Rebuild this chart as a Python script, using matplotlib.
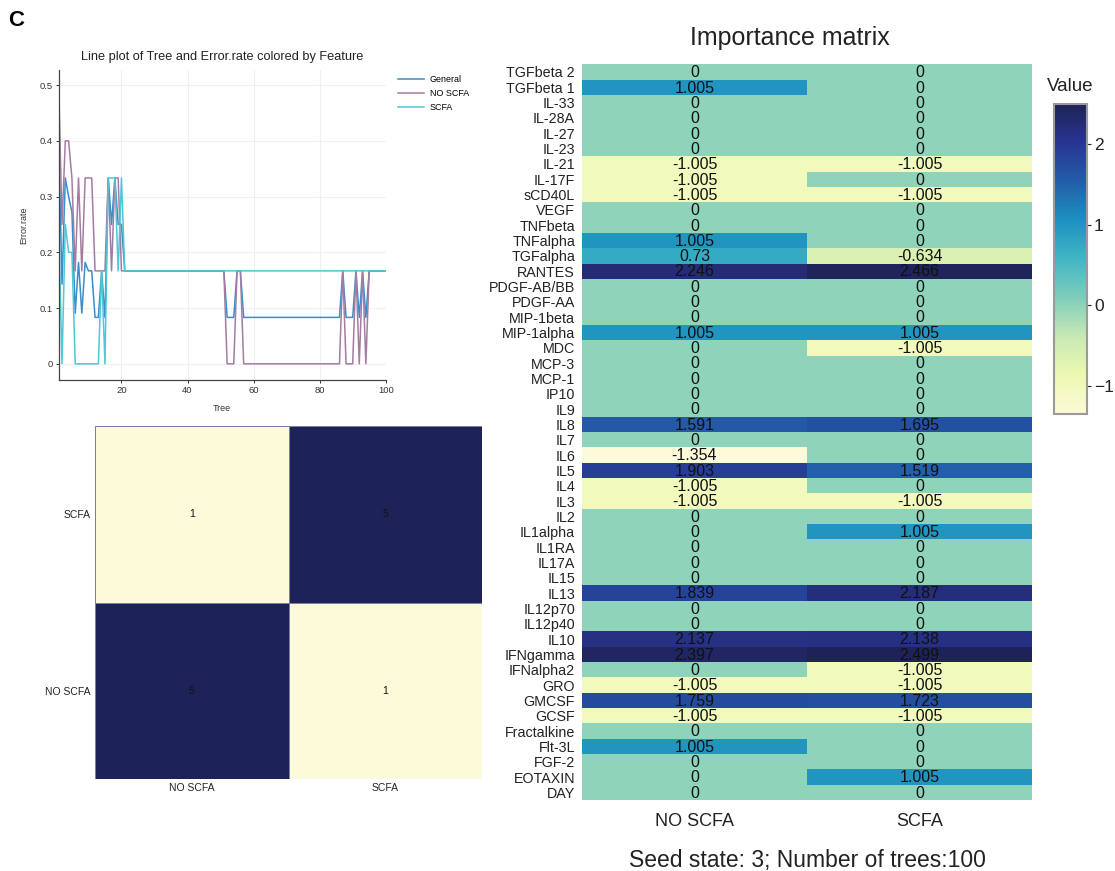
import numpy as np
import matplotlib
matplotlib.use("Agg")
import matplotlib.pyplot as plt
from matplotlib.colors import LinearSegmentedColormap, Normalize

plt.rcParams['font.family'] = ['Liberation Sans', 'DejaVu Sans']

# ---------------- data ----------------
trees = list(range(1, 101))

err_general = [
    0.4, 0.1429, 0.3333, 0.3, 0.2727, 0.0909, 0.1818, 0.0909, 0.1818, 0.1667,
    0.1667, 0.0833, 0.0833, 0.1667, 0.0833, 0.3333, 0.25, 0.3333, 0.25, 0.25,
    0.1667, 0.1667, 0.1667, 0.1667, 0.1667, 0.1667, 0.1667, 0.1667, 0.1667, 0.1667,
    0.1667, 0.1667, 0.1667, 0.1667, 0.1667, 0.1667, 0.1667, 0.1667, 0.1667, 0.1667,
    0.1667, 0.1667, 0.1667, 0.1667, 0.1667, 0.1667, 0.1667, 0.1667, 0.1667, 0.1667,
    0.1667, 0.0833, 0.0833, 0.0833, 0.1667, 0.1667, 0.0833, 0.0833, 0.0833, 0.0833,
    0.0833, 0.0833, 0.0833, 0.0833, 0.0833, 0.0833, 0.0833, 0.0833, 0.0833, 0.0833,
    0.0833, 0.0833, 0.0833, 0.0833, 0.0833, 0.0833, 0.0833, 0.0833, 0.0833, 0.0833,
    0.0833, 0.0833, 0.0833, 0.0833, 0.0833, 0.0833, 0.1667, 0.0833, 0.0833, 0.0833,
    0.1667, 0.0833, 0.1667, 0.0833, 0.1667, 0.1667, 0.1667, 0.1667, 0.1667, 0.1667,
]

err_no_scfa = [
    0.5, 0.25, 0.4, 0.4, 0.3333, 0.1667, 0.3333, 0.1667, 0.3333, 0.3333,
    0.3333, 0.1667, 0.1667, 0.1667, 0.1667, 0.3333, 0.1667, 0.3333, 0.3333, 0.1667,
    0.1667, 0.1667, 0.1667, 0.1667, 0.1667, 0.1667, 0.1667, 0.1667, 0.1667, 0.1667,
    0.1667, 0.1667, 0.1667, 0.1667, 0.1667, 0.1667, 0.1667, 0.1667, 0.1667, 0.1667,
    0.1667, 0.1667, 0.1667, 0.1667, 0.1667, 0.1667, 0.1667, 0.1667, 0.1667, 0.1667,
    0.1667, 0.0, 0.0, 0.0, 0.1667, 0.1667, 0.0, 0.0, 0.0, 0.0,
    0.0, 0.0, 0.0, 0.0, 0.0, 0.0, 0.0, 0.0, 0.0, 0.0,
    0.0, 0.0, 0.0, 0.0, 0.0, 0.0, 0.0, 0.0, 0.0, 0.0,
    0.0, 0.0, 0.0, 0.0, 0.0, 0.0, 0.1667, 0.0, 0.0, 0.0,
    0.1667, 0.0, 0.1667, 0.0, 0.1667, 0.1667, 0.1667, 0.1667, 0.1667, 0.1667,
]

err_scfa = [
    0.25, 0.0, 0.25, 0.2, 0.2, 0.0, 0.0, 0.0, 0.0, 0.0,
    0.0, 0.0, 0.0, 0.1667, 0.0, 0.3333, 0.3333, 0.3333, 0.1667, 0.3333,
    0.1667, 0.1667, 0.1667, 0.1667, 0.1667, 0.1667, 0.1667, 0.1667, 0.1667, 0.1667,
    0.1667, 0.1667, 0.1667, 0.1667, 0.1667, 0.1667, 0.1667, 0.1667, 0.1667, 0.1667,
    0.1667, 0.1667, 0.1667, 0.1667, 0.1667, 0.1667, 0.1667, 0.1667, 0.1667, 0.1667,
    0.1667, 0.1667, 0.1667, 0.1667, 0.1667, 0.1667, 0.1667, 0.1667, 0.1667, 0.1667,
    0.1667, 0.1667, 0.1667, 0.1667, 0.1667, 0.1667, 0.1667, 0.1667, 0.1667, 0.1667,
    0.1667, 0.1667, 0.1667, 0.1667, 0.1667, 0.1667, 0.1667, 0.1667, 0.1667, 0.1667,
    0.1667, 0.1667, 0.1667, 0.1667, 0.1667, 0.1667, 0.1667, 0.1667, 0.1667, 0.1667,
    0.1667, 0.1667, 0.1667, 0.1667, 0.1667, 0.1667, 0.1667, 0.1667, 0.1667, 0.1667,
]

series_names = ["General", "NO SCFA", "SCFA"]
series_colors = ["#3a8ec9", "#a57ca1", "#4ec7d7"]

# confusion matrix (rows: true class top->bottom, columns: predicted)
cm_rows = ["SCFA", "NO SCFA"]
cm_cols = ["NO SCFA", "SCFA"]
cm_values = [[1, 5],
             [5, 1]]

# importance matrix
features = [
    "TGFbeta 2", "TGFbeta 1", "IL-33", "IL-28A", "IL-27", "IL-23", "IL-21",
    "IL-17F", "sCD40L", "VEGF", "TNFbeta", "TNFalpha", "TGFalpha", "RANTES",
    "PDGF-AB/BB", "PDGF-AA", "MIP-1beta", "MIP-1alpha", "MDC", "MCP-3", "MCP-1",
    "IP10", "IL9", "IL8", "IL7", "IL6", "IL5", "IL4", "IL3", "IL2", "IL1alpha",
    "IL1RA", "IL17A", "IL15", "IL13", "IL12p70", "IL12p40", "IL10", "IFNgamma",
    "IFNalpha2", "GRO", "GMCSF", "GCSF", "Fractalkine", "Flt-3L", "FGF-2",
    "EOTAXIN", "DAY",
]
groups = ["NO SCFA", "SCFA"]
imp_no_scfa = [
    0, 1.005, 0, 0, 0, 0, -1.005,
    -1.005, -1.005, 0, 0, 1.005, 0.73, 2.246,
    0, 0, 0, 1.005, 0, 0, 0,
    0, 0, 1.591, 0, -1.354, 1.903, -1.005, -1.005, 0, 0,
    0, 0, 0, 1.839, 0, 0, 2.137, 2.397,
    0, -1.005, 1.759, -1.005, 0, 1.005, 0,
    0, 0,
]
imp_scfa = [
    0, 0, 0, 0, 0, 0, -1.005,
    0, -1.005, 0, 0, 0, -0.634, 2.466,
    0, 0, 0, 1.005, -1.005, 0, 0,
    0, 0, 1.695, 0, 0, 1.519, 0, -1.005, 0, 1.005,
    0, 0, 0, 2.187, 0, 0, 2.138, 2.499,
    -1.005, -1.005, 1.723, -1.005, 0, 0, 0,
    1.005, 0,
]

# ---------------- colours ----------------
ylgnbu = LinearSegmentedColormap.from_list(
    "ylgnbu_soft",
    ["#fcfad9", "#edf8b1", "#c7e9b4", "#7fcdbb", "#41b6c4",
     "#1d91c0", "#225ea8", "#283592", "#1e2357"])

W, H = 1115, 871
fig = plt.figure(figsize=(W / 100, H / 100), dpi=100)


def box(left, top, right, bottom):
    return [left / W, 1 - bottom / H, (right - left) / W, (bottom - top) / H]


fig.text(8 / W, 1 - 20 / H, "C", fontsize=16, fontweight="bold",
         ha="left", va="center")

# ---------------- line plot ----------------
ax1 = fig.add_axes(box(58.7, 70, 385.7, 380))
for vals, name, col in zip([err_general, err_no_scfa, err_scfa],
                           series_names, series_colors):
    ax1.plot(trees, vals, color=col, lw=1.1, label=name)
ax1.set_xlim(1, 100)
ax1.set_ylim(-0.029, 0.527)
ax1.set_xticks([20, 40, 60, 80, 100])
ax1.set_yticks([0, 0.1, 0.2, 0.3, 0.4, 0.5])
ax1.set_yticklabels(["0", "0.1", "0.2", "0.3", "0.4", "0.5"])
ax1.grid(True, color="#f0f0f0", lw=0.8)
ax1.set_axisbelow(True)
for s in ["top", "right"]:
    ax1.spines[s].set_visible(False)
for s in ["left", "bottom"]:
    ax1.spines[s].set_color("#444444")
    ax1.spines[s].set_linewidth(0.9)
ax1.tick_params(labelsize=6.8, length=2.5, width=0.7, colors="#333333", pad=2)
ax1.set_xlabel("Tree", fontsize=6.5, color="#333333", labelpad=6)
ax1.set_ylabel("Error.rate", fontsize=6.5, color="#333333", labelpad=8)
ax1.set_title("Line plot of Tree and Error.rate colored by Feature",
              fontsize=9.2, color="#222222", pad=7)
leg = ax1.legend(loc="upper left", bbox_to_anchor=(1.02, 1.0), frameon=False,
                 fontsize=6.4, handlelength=3.0, handletextpad=0.6,
                 labelspacing=0.55, borderaxespad=0.2)

# ---------------- confusion matrix ----------------
ax2 = fig.add_axes(box(95, 426, 482, 779.3))
cm = np.array(cm_values)
ax2.pcolormesh(np.arange(3), np.arange(3), cm, cmap=ylgnbu,
               vmin=cm.min(), vmax=cm.max(), edgecolors="#7c80a0", linewidth=0.5)
ax2.set_xlim(0, 2)
ax2.set_ylim(2, 0)
for i in range(2):
    for j in range(2):
        ax2.text(j + 0.5, i + 0.5, str(cm_values[i][j]), ha="center",
                 va="center", fontsize=7.5, color="#111111")
ax2.set_xticks([0.5, 1.5])
ax2.set_xticklabels(cm_cols)
ax2.set_yticks([0.5, 1.5])
ax2.set_yticklabels(cm_rows)
ax2.tick_params(length=0, labelsize=7.5, colors="#222222", pad=3)
for s in ax2.spines.values():
    s.set_visible(False)

# ---------------- importance matrix ----------------
ax3 = fig.add_axes(box(582, 64.3, 1032, 800))
imp = np.column_stack([imp_no_scfa, imp_scfa])
norm = Normalize(vmin=imp.min(), vmax=imp.max())
mesh = ax3.pcolormesh(np.arange(3), np.arange(len(features) + 1), imp,
                      cmap=ylgnbu, norm=norm)
ax3.set_xlim(0, 2)
ax3.set_ylim(len(features), 0)
for i in range(len(features)):
    for j in range(2):
        ax3.text(j + 0.5, i + 0.55, f"{imp[i, j]:g}", ha="center", va="center",
                 fontsize=11.5, color="#111111")
ax3.set_yticks(np.arange(len(features)) + 0.5)
ax3.set_yticklabels(features, fontsize=10.3, color="#222222")
ax3.set_xticks([0.5, 1.5])
ax3.set_xticklabels(groups, fontsize=13, color="#222222")
ax3.tick_params(axis="y", length=0, pad=5)
ax3.tick_params(axis="x", length=0, pad=9)
for s in ax3.spines.values():
    s.set_visible(False)
ax3.set_xlabel("Seed state: 3; Number of trees:100", fontsize=16.5,
               color="#222222", labelpad=14)
fig.text(790 / W, 1 - 38 / H, "Importance matrix", fontsize=18,
         color="#222222", ha="center", va="center")

# colour bar
cax = fig.add_axes(box(1054, 104, 1087, 414))
cb = fig.colorbar(mesh, cax=cax, ticks=[-1, 0, 1, 2])
cb.outline.set_edgecolor("#9a9a9a")
cb.outline.set_linewidth(1.5)
cax.tick_params(labelsize=12.5, length=3, width=0.8, colors="#222222", pad=2)
cax.set_title("Value", fontsize=13.5, color="#222222", pad=9)

fig.savefig("out.png", dpi=100)
